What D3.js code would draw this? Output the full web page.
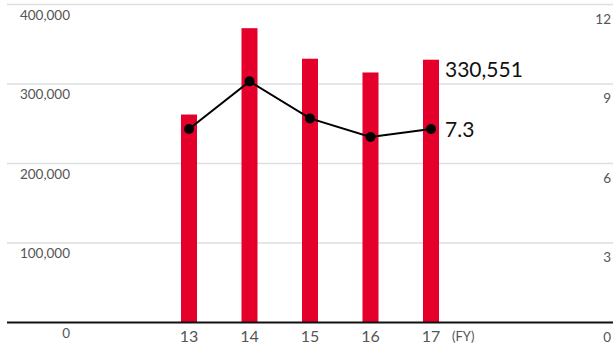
<!DOCTYPE html>
<html>
<head>
<meta charset="utf-8">
<script src="https://cdn.jsdelivr.net/npm/d3@7"></script>
<style>
  html, body { margin: 0; padding: 0; background: #fff; }
  svg { display: block; font-family: Lato, "Open Sans", sans-serif; }
</style>
</head>
<body>
<svg id="chart" width="615" height="347"></svg>
<script>
// Fiscal years and values
const years = [13, 14, 15, 16, 17];
const barValues = [261600, 370200, 331800, 314500, 330551];
const lineValues = [7.3, 9.1, 7.7, 7.0, 7.3];
const leftTicks = [0, 100000, 200000, 300000, 400000];
const rightTicks = [0, 3, 6, 9, 12];

const svg = d3.select("#chart");
const plotLeft = 7, plotRight = 613, yBase = 322.5, yTop = 4.5;

const x = d3.scaleLinear().domain([13, 17]).range([189, 431]);
const yL = d3.scaleLinear().domain([0, 400000]).range([yBase, yTop]);
const yR = d3.scaleLinear().domain([0, 12]).range([yBase, yTop]);
const fmt = d3.format(",");

// gridlines
svg.append("g").selectAll("line")
  .data(leftTicks.filter(d => d > 0))
  .join("line")
  .attr("x1", plotLeft).attr("x2", plotRight)
  .attr("y1", d => yL(d)).attr("y2", d => yL(d))
  .attr("stroke", "#dedede").attr("stroke-width", 1.5);

// left tick labels
svg.append("g").selectAll("text")
  .data(leftTicks)
  .join("text")
  .attr("x", 70)
  .attr("y", d => yL(d) + 15)
  .attr("text-anchor", "end")
  .attr("font-size", 13.5)
  .attr("fill", "#555")
  .text(d => fmt(d));

// right tick labels
svg.append("g").selectAll("text")
  .data(rightTicks)
  .join("text")
  .attr("x", 611)
  .attr("y", d => yR(d) + 19)
  .attr("text-anchor", "end")
  .attr("font-size", 13.5)
  .attr("fill", "#555")
  .text(d => d);

// bars
const bw = 16;
svg.append("g").selectAll("rect")
  .data(years)
  .join("rect")
  .attr("x", (d) => x(d) - bw / 2)
  .attr("width", bw)
  .attr("y", (d, i) => yL(barValues[i]))
  .attr("height", (d, i) => yBase - yL(barValues[i]))
  .attr("fill", "#e4002b");

// baseline
svg.append("line")
  .attr("x1", plotLeft).attr("x2", plotRight)
  .attr("y1", yBase).attr("y2", yBase)
  .attr("stroke", "#111").attr("stroke-width", 2);

// x labels
svg.append("g").selectAll("text")
  .data(years)
  .join("text")
  .attr("x", d => x(d))
  .attr("y", 342)
  .attr("text-anchor", "middle")
  .attr("font-size", 16)
  .attr("fill", "#555")
  .text(d => d);

svg.append("text")
  .attr("x", 452).attr("y", 341)
  .attr("font-size", 13)
  .attr("fill", "#555")
  .text("(FY)");

// ratio line
const line = d3.line().x((d, i) => x(years[i])).y(d => yR(d));
svg.append("path")
  .datum(lineValues)
  .attr("d", line)
  .attr("fill", "none")
  .attr("stroke", "#000")
  .attr("stroke-width", 2);

svg.append("g").selectAll("circle")
  .data(lineValues)
  .join("circle")
  .attr("cx", (d, i) => x(years[i]))
  .attr("cy", d => yR(d))
  .attr("r", 5)
  .attr("fill", "#000");

// latest values
const last = years.length - 1;
svg.append("text")
  .attr("x", 445).attr("y", yL(barValues[last]) + 17)
  .attr("font-size", 21)
  .attr("fill", "#111")
  .text(fmt(barValues[last]));

svg.append("text")
  .attr("x", 445).attr("y", yR(lineValues[last]) + 8)
  .attr("font-size", 21)
  .attr("fill", "#111")
  .text(lineValues[last].toFixed(1));
</script>
</body>
</html>
